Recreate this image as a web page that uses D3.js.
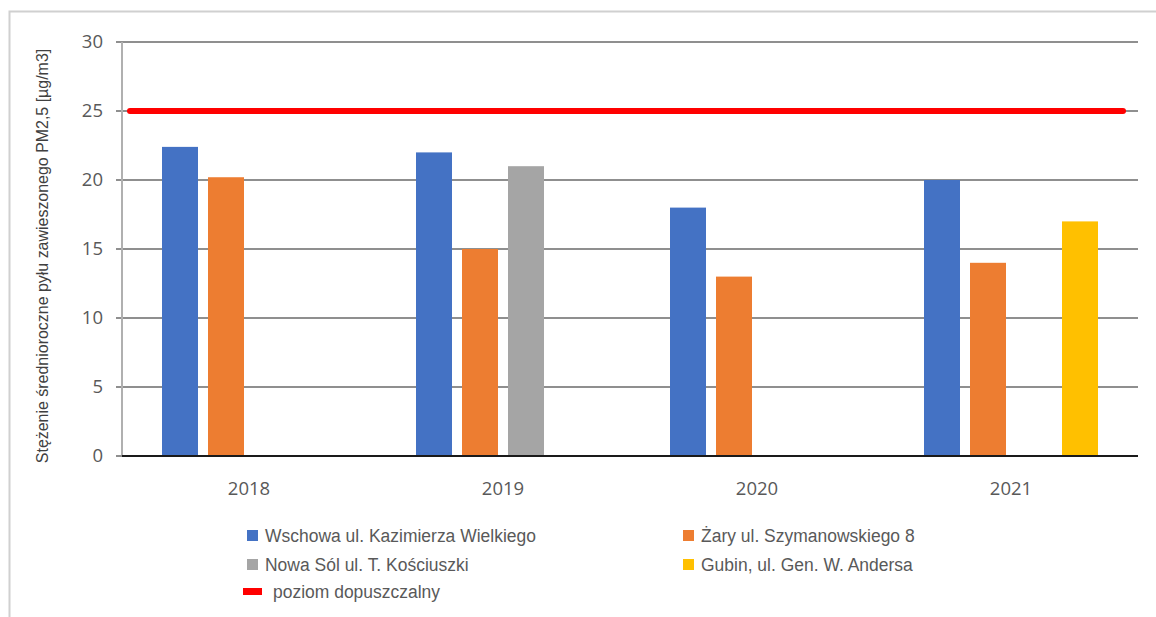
<!DOCTYPE html>
<html><head><meta charset="utf-8">
<script src="https://cdn.jsdelivr.net/npm/d3@7"></script>
<style>
body{margin:0;background:#fff;}
svg{display:block;}
</style></head>
<body>
<script>
const years = ["2018","2019","2020","2021"];
const seriesNames = ["Wschowa ul. Kazimierza Wielkiego","Żary ul. Szymanowskiego 8","Nowa Sól ul. T. Kościuszki","Gubin, ul. Gen. W. Andersa"];
const wschowa = [22.4, 22, 18, 20];
const zary = [20.2, 15, 13, 14];
const nowaSol = [null, 21, null, null];
const gubin = [null, null, null, 17];
const limitValue = 25;
const limitName = "poziom dopuszczalny";
const yTicks = [0,5,10,15,20,25,30];
const yTitle = "Stężenie średnioroczne pyłu zawieszonego PM2,5 [µg/m3]";
const colors = ["#4472C4","#ED7D31","#A5A5A5","#FFC000"];

const seriesValues = [wschowa, zary, nowaSol, gubin];
const W = 1156, H = 617;
const svg = d3.select("body").append("svg").attr("width",W).attr("height",H);
svg.append("rect").attr("width",W).attr("height",H).attr("fill","#fff");
// outer border
svg.append("path").attr("d","M9.5,"+H+" V11.5 H"+W).attr("fill","none").attr("stroke","#d0d0d0").attr("stroke-width",2);

const x0 = d3.scaleBand().domain(years).range([122,1138]);
const x1 = d3.scaleBand().domain(d3.range(4)).range([40, 214]).paddingInner(10/46);
const y = d3.scaleLinear().domain([0,30]).range([456,42]);

// gridlines
svg.append("g").selectAll("line").data(yTicks.filter(d=>d>0)).join("line")
  .attr("x1",116).attr("x2",1138).attr("y1",d=>y(d)).attr("y2",d=>y(d))
  .attr("stroke","#8f8f8f").attr("stroke-width",2);
// y axis line
svg.append("line").attr("x1",122).attr("x2",122).attr("y1",y(30)).attr("y2",y(0))
  .attr("stroke","#b0b0b0").attr("stroke-width",2);
// tick marks at 0
svg.append("line").attr("x1",116).attr("x2",122).attr("y1",y(0)).attr("y2",y(0)).attr("stroke","#8f8f8f").attr("stroke-width",2);
// y tick labels
svg.append("g").selectAll("text").data(yTicks).join("text")
  .attr("x",103).attr("y",d=>y(d)).attr("dy","0.35em").attr("text-anchor","end")
  .attr("font-family","'Open Sans', 'Liberation Sans', sans-serif").attr("font-size",18.5).attr("fill","#595959")
  .text(d=>d);

// bars
const groups = svg.append("g").selectAll("g").data(years).join("g")
  .attr("transform",d=>`translate(${x0(d)},0)`);
groups.selectAll("rect").data((yr,i)=>seriesValues.map((s,k)=>({k, v:s[i]})).filter(d=>d.v!=null)).join("rect")
  .attr("x",d=>x1(d.k)).attr("width",x1.bandwidth())
  .attr("y",d=>y(d.v)).attr("height",d=>y(0)-y(d.v))
  .attr("fill",d=>colors[d.k]);

// zero line
svg.append("line").attr("x1",122).attr("x2",1138).attr("y1",y(0)).attr("y2",y(0))
  .attr("stroke","#1a1a1a").attr("stroke-width",2);

// x labels
svg.append("g").selectAll("text").data(years).join("text")
  .attr("x",d=>x0(d)+x0.bandwidth()/2).attr("y",489).attr("dy","0.35em").attr("text-anchor","middle")
  .attr("font-family","'Open Sans', 'Liberation Sans', sans-serif").attr("font-size",18.5).attr("fill","#595959")
  .text(d=>d);

// limit line
svg.append("line").attr("x1",130).attr("x2",1123).attr("y1",y(limitValue)).attr("y2",y(limitValue))
  .attr("stroke","#FF0000").attr("stroke-width",6).attr("stroke-linecap","round");

// y title
svg.append("text").attr("transform",`translate(48,${256}) rotate(-90) scale(0.95,1)`)
  .attr("text-anchor","middle").attr("font-family","'Liberation Sans',sans-serif")
  .attr("font-size",16.8).attr("fill","#404040").text(yTitle);

// legend
const legendFont = "'Liberation Sans',sans-serif";
const legPos = [[247,535],[683,535],[247,564],[683,564]];
seriesNames.forEach((n,i)=>{
  const [lx,ly] = legPos[i];
  svg.append("rect").attr("x",lx).attr("y",ly-5).attr("width",11).attr("height",11).attr("fill",colors[i]);
  svg.append("text").attr("transform",`translate(${lx+18},${ly}) scale(0.92,1)`).attr("dy","0.35em").attr("font-family",legendFont)
    .attr("font-size",19).attr("fill","#595959").text(n);
});
svg.append("rect").attr("x",243).attr("y",588).attr("width",19).attr("height",7).attr("fill","#FF0000");
svg.append("text").attr("transform",`translate(273,591) scale(0.92,1)`).attr("dy","0.35em").attr("font-family",legendFont)
  .attr("font-size",19).attr("fill","#595959").text(limitName);
</script>
</body></html>
